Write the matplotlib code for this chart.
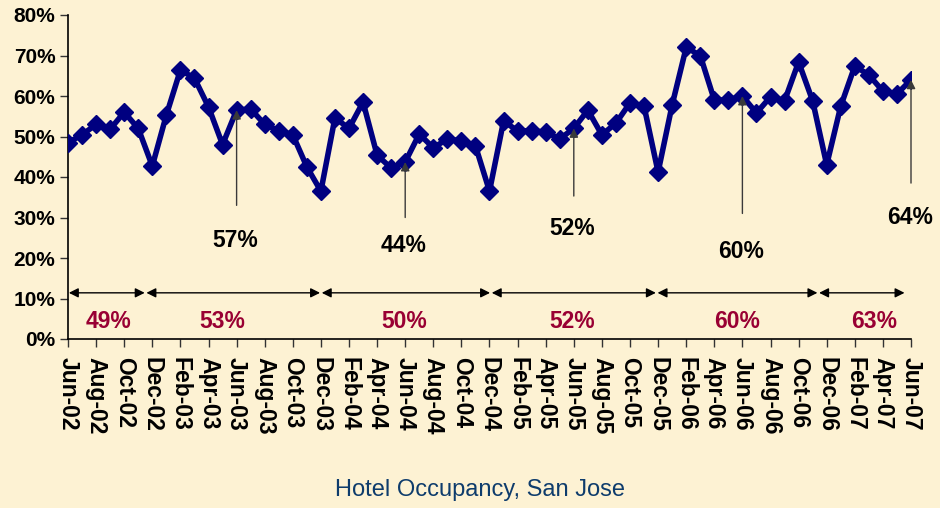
import numpy as np
import pandas as pd
import matplotlib
matplotlib.use('Agg')
import matplotlib.pyplot as plt

BG = '#FDF2D3'
NAVY = '#000080'
RED = '#990033'
TITLE_BLUE = '#0E3C6C'

plt.rcParams['font.family'] = ['Liberation Sans', 'DejaVu Sans']

# monthly occupancy, Jun-02 .. Jun-07
months = pd.date_range('2002-06-01', '2007-06-01', freq='MS').strftime('%b-%y').tolist()
occupancy = [
    48.5, 50.4, 53.0, 51.8, 56.0, 52.0, 42.7, 55.3, 66.4, 64.4, 57.3, 48.0,
    56.5, 56.8, 53.0, 51.4, 50.4, 42.5, 36.5, 54.6, 52.0, 58.5, 45.4, 42.2,
    43.7, 50.6, 47.2, 49.4, 48.9, 47.7, 36.5, 53.8, 51.4, 51.4, 51.1, 49.4,
    52.0, 56.5, 50.4, 53.3, 58.3, 57.5, 41.2, 57.8, 72.0, 70.0, 59.0, 59.0,
    60.0, 55.8, 59.8, 58.8, 68.4, 58.8, 43.0, 57.5, 67.4, 65.2, 61.2, 60.5,
    64.0,
]

# June call-outs
june_idx = [12, 24, 36, 48, 60]
june_labels = ['57%', '44%', '52%', '60%', '64%']

# period averages
period_bounds = [0, 5.52, 18.0, 30.1, 41.9, 53.4, 59.6]
period_labels = ['49%', '53%', '50%', '52%', '60%', '63%']

fig = plt.figure(figsize=(9.4, 5.08), dpi=100, facecolor=BG)
ax = fig.add_axes([68 / 940, 1 - 339 / 508, 843 / 940, 324 / 508])
ax.set_facecolor(BG)

x = np.arange(len(occupancy))
ax.plot(x, occupancy, color=NAVY, lw=4.0, marker='D', ms=9,
        mfc=NAVY, mec=NAVY, zorder=3)

# vertical call-out arrows
line_end = [33.0, 30.0, 35.3, 31.0, 38.5]
text_y = [24.4, 23.2, 27.4, 21.5, 30.1]
for i, lab, ye, ty in zip(june_idx, june_labels, line_end, text_y):
    ax.annotate('', xy=(i, occupancy[i]), xytext=(i, ye),
                arrowprops=dict(arrowstyle='-|>', color='#3a3a3a', lw=1.0,
                                mutation_scale=13, shrinkA=0, shrinkB=0),
                zorder=4)
    ax.text(i - 0.1, ty, lab, ha='center', va='center', fontsize=16.5,
            fontweight='bold', color='black')

# period arrows and averages
arrow_y = 11.4
for k, lab in enumerate(period_labels):
    a, b = period_bounds[k], period_bounds[k + 1]
    gap = 0.06
    ax.annotate('', xy=(b - gap, arrow_y), xytext=(a + gap, arrow_y),
                arrowprops=dict(arrowstyle='<|-|>', color='black', lw=1.0,
                                mutation_scale=14, shrinkA=0, shrinkB=0))
label_x = [2.85, 11.0, 23.9, 35.9, 47.6, 57.4]
for lx, lab in zip(label_x, period_labels):
    ax.text(lx, 4.2, lab, ha='center', va='center', fontsize=16.5,
            fontweight='bold', color=RED)

ax.set_xlim(0, 60)
ax.set_ylim(0, 80)
ax.set_yticks(np.arange(0, 81, 10))
ax.set_yticklabels([f'{v}%' for v in range(0, 81, 10)])
ax.set_xticks(x[::2])
ax.set_xticklabels(months[::2], rotation=-90, va='top', ha='center')
ax.tick_params(axis='both', length=6, width=1, color='#333333',
               direction='out')
ax.tick_params(axis='y', pad=3, labelsize=15)
ax.tick_params(axis='x', pad=7, labelsize=16.5)
for t in ax.get_xticklabels() + ax.get_yticklabels():
    t.set_fontweight('bold')

ax.spines[['top', 'right']].set_visible(False)
for s in ['left', 'bottom']:
    ax.spines[s].set_linewidth(1.2)
    ax.spines[s].set_color('black')

fig.text(480 / 940, 1 - 490 / 508, 'Hotel Occupancy, San Jose', ha='center',
         va='center', fontsize=17, color=TITLE_BLUE)

fig.savefig('out.png', dpi=100, facecolor=BG)
